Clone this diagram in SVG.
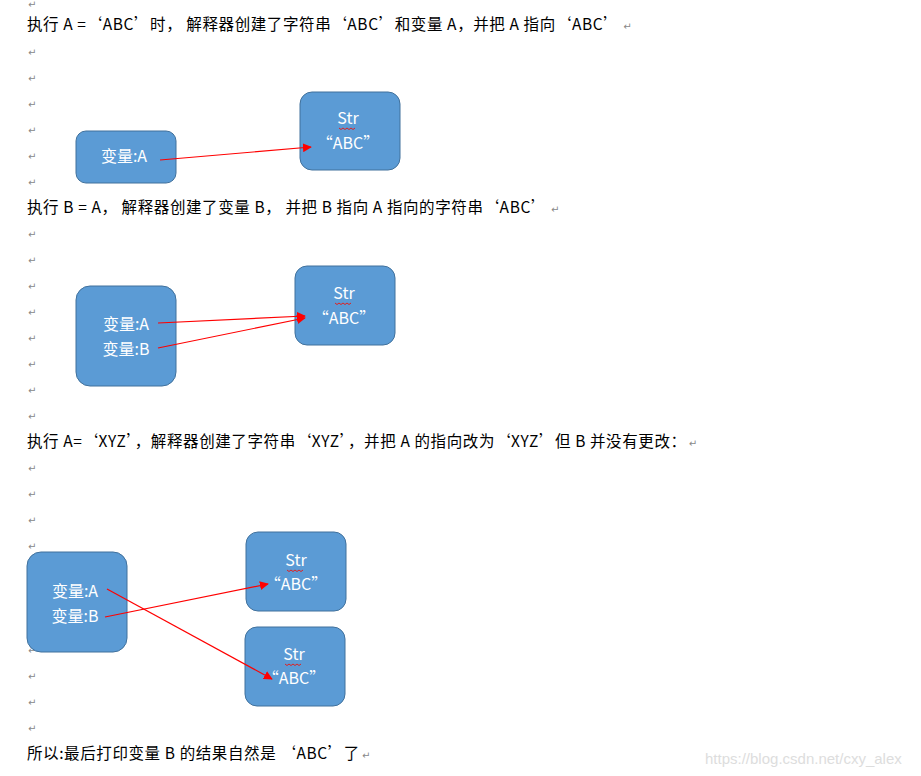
<svg xmlns="http://www.w3.org/2000/svg" width="921" height="776" viewBox="0 0 921 776">
<defs>
<style>
.t{font-family:"Noto Sans CJK SC","Liberation Sans",sans-serif;font-size:15.5px;fill:#000}
.p{font-family:"DejaVu Sans",sans-serif;font-size:10px;fill:#888}
.b{fill:#5B9BD5;stroke:#41719C;stroke-width:1}
.w{font-family:"Noto Sans CJK SC","Liberation Sans",sans-serif;font-size:16px;fill:#fff;text-anchor:middle}
.c{stroke:#ff0000;stroke-width:1.2;fill:none;marker-end:url(#ah)}
.u{stroke:#e02020;stroke-width:1;fill:none}
</style>
<marker id="ah" viewBox="0 0 10 10" refX="9" refY="5" markerWidth="9" markerHeight="9" orient="auto" markerUnits="userSpaceOnUse"><path d="M0,0 L10,5 L0,10 z" fill="#ff0000"/></marker>
</defs>
<rect width="921" height="776" fill="#fff"/>
<g id="marks" class="p">
<text x="28" y="8">↵</text>
<text x="28" y="56">↵</text><text x="28" y="82">↵</text><text x="28" y="108">↵</text><text x="28" y="134">↵</text><text x="28" y="160">↵</text><text x="28" y="186">↵</text>
<text x="28" y="238">↵</text><text x="28" y="264">↵</text><text x="28" y="290">↵</text><text x="28" y="316">↵</text><text x="28" y="342">↵</text><text x="28" y="368">↵</text><text x="28" y="394">↵</text><text x="28" y="420">↵</text>
<text x="28" y="472">↵</text><text x="28" y="498">↵</text><text x="28" y="524">↵</text><text x="28" y="550">↵</text><text x="28" y="654">↵</text><text x="28" y="680">↵</text><text x="28" y="706">↵</text><text x="28" y="732">↵</text>
</g>
<text class="t" x="27" y="30" letter-spacing="0.6">执行 A =‘ABC’时， 解释器创建了字符串‘ABC’和变量 A，并把 A 指向‘ABC’<tspan class="p" dx="4">↵</tspan></text>
<text class="t" x="27" y="213" letter-spacing="0.6">执行 B = A， 解释器创建了变量 B， 并把 B 指向 A 指向的字符串‘ABC’<tspan class="p" dx="4">↵</tspan></text>
<text class="t" x="27" y="447" letter-spacing="0.6">执行 A=‘XYZ’，解释器创建了字符串‘XYZ’，并把 A 的指向改为‘XYZ’但 B 并没有更改：<tspan class="p" dx="2">↵</tspan></text>
<text class="t" x="27" y="759" letter-spacing="0.6">所以:最后打印变量 B 的结果自然是 ‘ABC’了<tspan class="p" dx="2">↵</tspan></text>

<g id="n1a"><rect class="b" x="76" y="131" width="100" height="52" rx="10"/><text class="w" x="124" y="162">变量:A</text></g>
<g id="n1s"><rect class="b" x="300" y="92" width="100" height="78" rx="12"/><text class="w" x="348" y="124">Str</text><text class="w" x="348" y="149">“ABC”</text><path class="u" d="M339,128 q2,3 4,0 q2,3 4,0 q2,3 4,0 q2,3 4,0"/></g>

<g id="n2v"><rect class="b" x="76" y="286" width="100" height="100" rx="14"/><text class="w" x="126" y="330">变量:A</text><text class="w" x="126" y="355">变量:B</text></g>
<g id="n2s"><rect class="b" x="295" y="266" width="100" height="79" rx="12"/><text class="w" x="344" y="299">Str</text><text class="w" x="344" y="324">“ABC”</text><path class="u" d="M335,303 q2,3 4,0 q2,3 4,0 q2,3 4,0 q2,3 4,0"/></g>

<g id="n3v"><rect class="b" x="27" y="552" width="100" height="100" rx="14"/><text class="w" x="75" y="597">变量:A</text><text class="w" x="75" y="622">变量:B</text></g>
<g id="n3s1"><rect class="b" x="246" y="532" width="100" height="79" rx="12"/><text class="w" x="296" y="566">Str</text><text class="w" x="296" y="590">“ABC”</text><path class="u" d="M287,570 q2,3 4,0 q2,3 4,0 q2,3 4,0 q2,3 4,0"/></g>
<g id="n3s2"><rect class="b" x="245" y="627" width="100" height="79" rx="12"/><text class="w" x="294" y="660">Str</text><text class="w" x="294" y="684">“ABC”</text><path class="u" d="M285,664 q2,3 4,0 q2,3 4,0 q2,3 4,0 q2,3 4,0"/></g>

<g id="connectors">
<line class="c" x1="160" y1="160" x2="311" y2="147"/>
<line class="c" x1="158" y1="323" x2="305" y2="316"/>
<line class="c" x1="158" y1="348" x2="305" y2="318"/>
<line class="c" x1="107" y1="589" x2="272" y2="679"/>
<line class="c" x1="105" y1="617" x2="268" y2="584"/>
</g>
<text x="705" y="764" font-family="Liberation Sans,sans-serif" font-size="15" fill="#ddd">https://blog.csdn.net/cxy_alex</text>
</svg>
